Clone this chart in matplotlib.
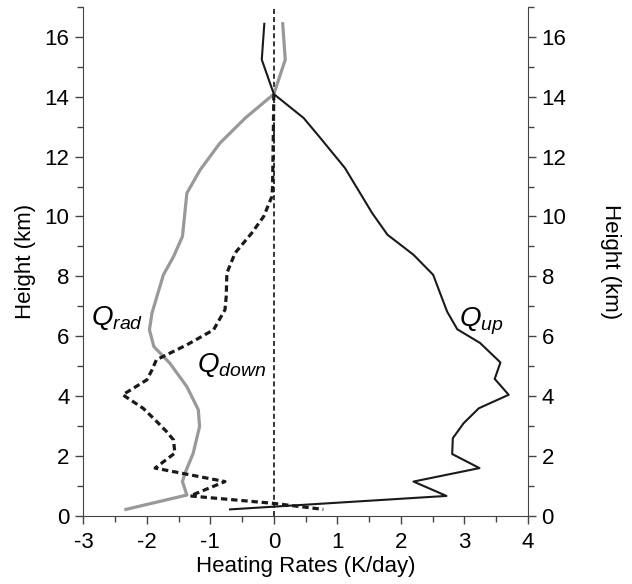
"""
Heating rate profiles: radiative, updraft and downdraft contributions vs height.
"""

import matplotlib.pyplot as plt
from matplotlib.ticker import MultipleLocator

plt.rcParams["font.family"] = ["Liberation Sans", "DejaVu Sans"]
plt.rcParams["mathtext.fontset"] = "custom"
plt.rcParams["mathtext.it"] = "Liberation Sans:italic"
plt.rcParams["mathtext.rm"] = "Liberation Sans"

# Q_up (black solid)
up_x = [-0.15, -0.19, 0.0, 0.47, 0.73, 1.12, 1.55, 1.79, 2.20, 2.51, 2.73, 2.89,
        3.25, 3.57, 3.48, 3.70, 3.23, 2.99, 2.82, 2.81, 3.24, 2.20, 2.72, -0.69]
up_y = [16.44, 15.24, 14.09, 13.29, 12.63, 11.62, 10.11, 9.39, 8.72, 8.05, 6.82, 6.23,
        5.77, 5.12, 4.57, 4.04, 3.59, 3.09, 2.59, 2.06, 1.59, 1.14, 0.66, 0.21]

# Q_rad (gray solid)
rad_x = [0.14, 0.18, 0.0, -0.45, -0.85, -1.16, -1.37, -1.44, -1.58, -1.74, -1.92,
         -1.96, -1.89, -1.64, -1.37, -1.19, -1.17, -1.27, -1.40, -1.44, -1.37, -2.33]
rad_y = [16.44, 15.24, 14.09, 13.29, 12.45, 11.56, 10.78, 9.33, 8.66, 8.05, 6.77,
         6.21, 5.65, 5.10, 4.31, 3.54, 2.98, 2.09, 1.42, 1.14, 0.69, 0.21]

# Q_down (black thick dashed)
down_x = [0.0, -0.01, -0.02, -0.03, -0.16, -0.35, -0.61, -0.74, -0.75, -0.77, -0.95,
          -1.37, -1.85, -1.92, -2.0, -2.38, -2.06, -1.87, -1.69, -1.58, -1.56, -1.87,
          -0.77, -1.32, 0.0, 0.78]
down_y = [14.09, 12.5, 11.0, 10.67, 10.0, 9.44, 8.78, 8.11, 7.33, 6.88, 6.21,
          5.71, 5.21, 4.87, 4.54, 4.04, 3.59, 3.20, 2.81, 2.53, 2.09, 1.59,
          1.14, 0.66, 0.41, 0.21]

fig = plt.figure(figsize=(6.32, 5.84), dpi=100)
ax = fig.add_axes([0.132, 0.117, 0.703, 0.871])

ax.plot([0, 0], [0, 17], color="black", lw=1.1, ls=(0, (3.3, 2)))
ax.plot(rad_x, rad_y, color="#999999", lw=2.3)
ax.plot(down_x, down_y, color="#1a1a1a", lw=2.3, ls=(0, (2.0, 1.2)))
ax.plot(up_x, up_y, color="#1a1a1a", lw=1.5)

ax.text(-2.47, 6.6, r"$Q_{rad}$", fontsize=20, ha="center", va="center")
ax.text(-0.67, 5.05, r"$Q_{down}$", fontsize=20, ha="center", va="center")
ax.text(3.27, 6.5, r"$Q_{up}$", fontsize=20, ha="center", va="center")

ax.set_xlim(-3, 4)
ax.set_ylim(0, 17)
ax.xaxis.set_minor_locator(MultipleLocator(0.5))
ax.yaxis.set_major_locator(MultipleLocator(2))
ax.yaxis.set_minor_locator(MultipleLocator(1))
ax.set_xticks([-3, -2, -1, 0, 1, 2, 3, 4])
ax.set_xticklabels(["-3", "-2", "-1", "0", "1", "2", "3", "4"])
ax.spines["top"].set_visible(False)
ax.spines["right"].set_visible(False)
for s in ["left", "bottom"]:
    ax.spines[s].set_color("#444444")

ax2 = ax.twinx()
ax2.set_ylim(0, 17)
ax2.yaxis.set_major_locator(MultipleLocator(2))
ax2.yaxis.set_minor_locator(MultipleLocator(1))
ax2.spines["top"].set_visible(False)
ax2.spines["left"].set_visible(False)
ax2.spines["bottom"].set_visible(False)
ax2.spines["right"].set_color("#444444")

for a in (ax, ax2):
    a.tick_params(which="major", length=6, width=1, color="#444444",
                  labelsize=16, pad=4)
    a.tick_params(which="minor", length=4, width=1, color="#444444")
ax.tick_params(axis="x", which="major", pad=6)

ax.set_xlabel("Heating Rates (K/day)", fontsize=16, labelpad=2)
ax.set_ylabel("Height (km)", fontsize=16, labelpad=6)
ax2.set_ylabel("Height (km)", fontsize=16, rotation=270, labelpad=39)

fig.savefig("out.png", dpi=100)
